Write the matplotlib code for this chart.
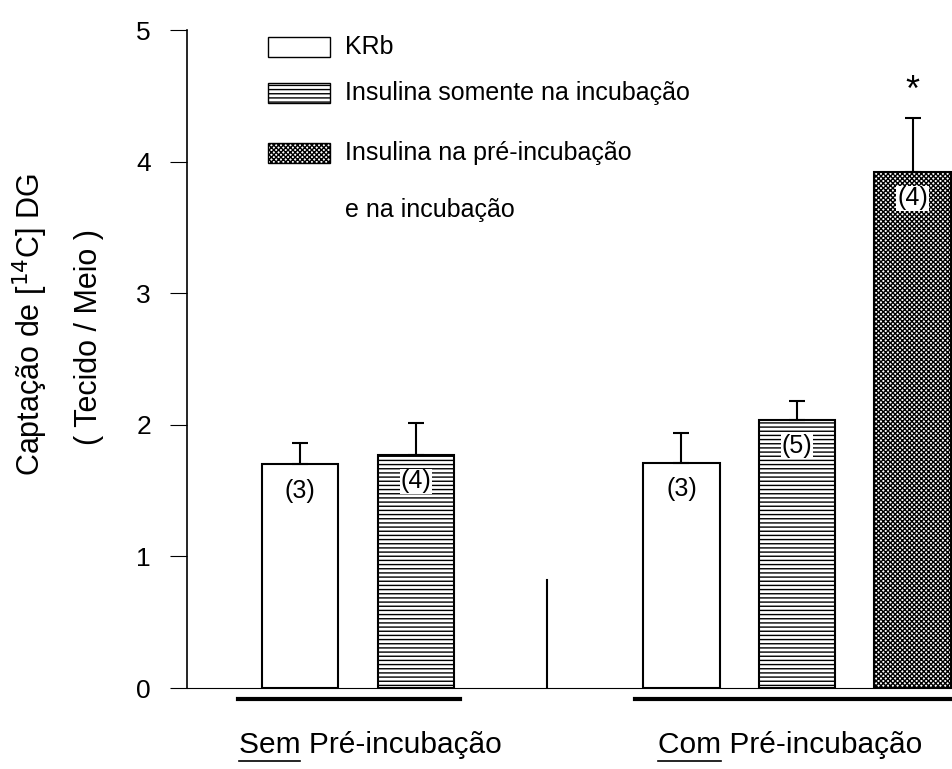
import matplotlib
matplotlib.use('Agg')
import matplotlib.pyplot as plt
from matplotlib.patches import Rectangle

plt.rcParams['font.family'] = ['Liberation Sans Narrow', 'Liberation Sans', 'DejaVu Sans']
plt.rcParams['hatch.linewidth'] = 1.0

# grupos e series
groups = ['Sem', 'Com']
group_rest = ' Pré-incubação'
series = ['KRb', 'Insulina somente na incubação',
          'Insulina na pré-incubação', 'e na incubação']
# barras: posicao, valor, erro, n, serie
xpos = [0, 1, 3.3, 4.3, 5.3]
vals = [1.70, 1.77, 1.71, 2.04, 3.92]
errs = [0.16, 0.24, 0.23, 0.14, 0.41]
ns = ['(3)', '(4)', '(3)', '(5)', '(4)']
kind = [0, 1, 0, 1, 2]
signif = [False, False, False, False, True]

hatches = ['', '----', 'xxxxxxx']
width = 0.66

fig = plt.figure(figsize=(9.53, 7.69), dpi=100)
ax = fig.add_axes([187 / 953, 81 / 769, 766 / 953, 658 / 769])

for x, v, e, n, k, s in zip(xpos, vals, errs, ns, kind, signif):
    ax.bar(x, v, width, color='white', edgecolor='black', linewidth=1.5,
           hatch=hatches[k], zorder=2)
    ax.errorbar(x, v, yerr=[[0], [e]], fmt='none', ecolor='black',
                elinewidth=1.5, capsize=6, capthick=1.5, zorder=3)
    ax.text(x, v - 0.2, n, ha='center', va='center', fontsize=18, zorder=4,
            bbox=dict(facecolor='white', edgecolor='none', pad=0.5) if k else None)
    if s:
        ax.text(x, v + e + 0.07, '*', ha='center', va='bottom', fontsize=26)

ax.set_xlim(-0.98, 5.65)
ax.set_ylim(0, 5)
ax.set_yticks([0, 1, 2, 3, 4, 5])
ax.tick_params(axis='y', direction='out', length=12, width=0.8, labelsize=19, pad=14)
ax.set_xticks([])
for sp in ['top', 'right']:
    ax.spines[sp].set_visible(False)
ax.spines['left'].set_linewidth(1.2)
ax.spines['bottom'].set_linewidth(0.8)

# linhas grossas sob cada grupo e divisoria
ax.plot([-0.54, 1.38], [-0.084, -0.084], color='black', lw=3, clip_on=False)
ax.plot([2.90, 5.65], [-0.084, -0.084], color='black', lw=3, clip_on=False)
ax.plot([2.14, 2.14], [0, 0.82], color='black', lw=1.5)

# rotulos dos grupos com a primeira palavra sublinhada
fig.canvas.draw()
r = fig.canvas.get_renderer()
inv = ax.transData.inverted()
for cx, g in zip([0.604, 4.24], groups):
    t = ax.text(cx, -0.495, g + group_rest, ha='center', va='baseline', fontsize=21.5)
    full = t.get_window_extent(r)
    tmp = ax.text(0, 0, g, fontsize=21.5)
    w = tmp.get_window_extent(r).width
    tmp.remove()
    x0 = inv.transform((full.x0, 0))[0]
    x1 = inv.transform((full.x0 + w, 0))[0]
    ax.plot([x0, x1], [-0.556, -0.556], color='black', lw=1.2, clip_on=False)

# legenda desenhada a mao
leg_y = [0.974, 0.904, 0.813]
for k, yy in enumerate(leg_y):
    ax.add_patch(Rectangle((0.106, yy - 0.015), 0.081, 0.030, transform=ax.transAxes,
                           facecolor='white', edgecolor='black', lw=1.0,
                           hatch=hatches[k], clip_on=False))
for yy, lab in zip(leg_y + [0.726], series):
    ax.text(0.206, yy, lab, transform=ax.transAxes, ha='left', va='center', fontsize=18)

fig.text(30 / 953, 1 - 325 / 769, 'Captação de [$^{14}$C] DG', rotation=90,
         ha='center', va='center', fontsize=22)
fig.text(89 / 953, 1 - 337 / 769, '( Tecido / Meio )', rotation=90,
         ha='center', va='center', fontsize=22)

fig.savefig('out.png', dpi=100)
